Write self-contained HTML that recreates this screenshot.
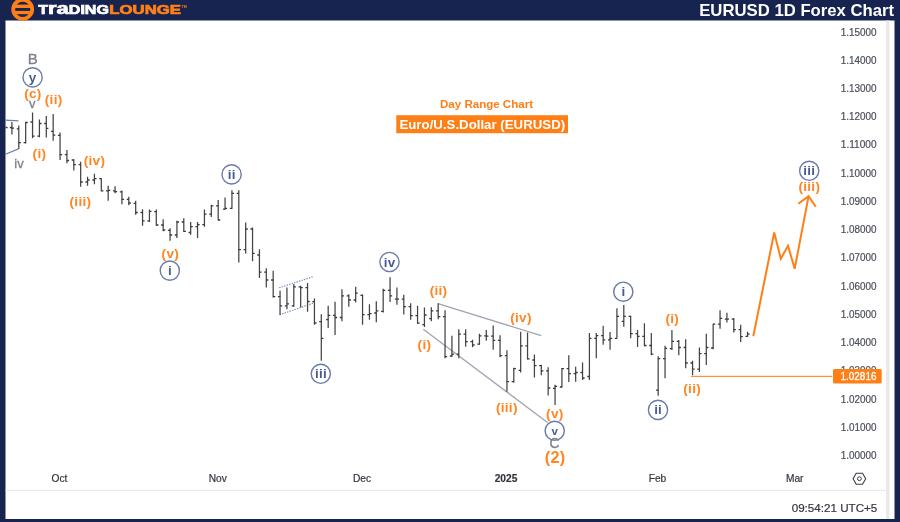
<!DOCTYPE html>
<html><head><meta charset="utf-8"><title>EURUSD 1D Forex Chart</title>
<style>
html,body{margin:0;padding:0;background:#16244f;overflow:hidden;}
body{width:900px;height:522px;font-family:"Liberation Sans", sans-serif;}
svg{display:block;will-change:transform;}
text{font-family:"Liberation Sans", sans-serif;}
</style></head><body>
<svg width="900" height="522" viewBox="0 0 900 522">
<rect x="0" y="0" width="900" height="522" fill="#16244f"/>
<rect x="5.5" y="20.5" width="889" height="498.5" fill="#ffffff"/>
<rect x="886.1" y="20.5" width="3.3" height="498.5" fill="#e9e9e9"/>
<rect x="5.5" y="489.8" width="880.6" height="1" fill="#e4e6ec"/>
<g>
<circle cx="22.7" cy="9.3" r="9.5" fill="none" stroke="#ff7f17" stroke-width="3.8"/>
<rect x="13.5" y="4.6" width="18.4" height="3.4" fill="#ff7f17"/>
<rect x="13.5" y="10.9" width="18.4" height="3.3" fill="#ff7f17"/>
</g>
<text x="38.2" y="13.8" font-family='"Liberation Sans", sans-serif' font-weight="bold" font-size="12.3" fill="#ffffff" stroke="#ffffff" stroke-width="0.7" textLength="70.7" lengthAdjust="spacingAndGlyphs">T<tspan font-size="16.9">ra</tspan>DING</text>
<text x="109.3" y="13.8" font-family='"Liberation Sans", sans-serif' font-weight="bold" font-size="12.3" fill="#ff7f17" stroke="#ff7f17" stroke-width="0.7" textLength="71.7" lengthAdjust="spacingAndGlyphs">LOUNGE</text>
<text x="181.5" y="8" font-family='"Liberation Sans", sans-serif' font-weight="bold" font-size="3.5" fill="#ff7f17">TM</text>
<text x="894.2" y="15.9" text-anchor="end" font-family='"Liberation Sans", sans-serif' font-weight="bold" font-size="16.6" fill="#ffffff" textLength="195" lengthAdjust="spacingAndGlyphs">EURUSD 1D Forex Chart</text>
<text x="876.6" y="459.2" text-anchor="end" font-family='"Liberation Sans", sans-serif' font-size="10.2" fill="#4b4f5a" stroke="#4b4f5a" stroke-width="0.2" textLength="35.8" lengthAdjust="spacingAndGlyphs">1.00000</text>
<text x="876.6" y="430.9" text-anchor="end" font-family='"Liberation Sans", sans-serif' font-size="10.2" fill="#4b4f5a" stroke="#4b4f5a" stroke-width="0.2" textLength="35.8" lengthAdjust="spacingAndGlyphs">1.01000</text>
<text x="876.6" y="402.7" text-anchor="end" font-family='"Liberation Sans", sans-serif' font-size="10.2" fill="#4b4f5a" stroke="#4b4f5a" stroke-width="0.2" textLength="35.8" lengthAdjust="spacingAndGlyphs">1.02000</text>
<text x="876.6" y="346.2" text-anchor="end" font-family='"Liberation Sans", sans-serif' font-size="10.2" fill="#4b4f5a" stroke="#4b4f5a" stroke-width="0.2" textLength="35.8" lengthAdjust="spacingAndGlyphs">1.04000</text>
<text x="876.6" y="317.9" text-anchor="end" font-family='"Liberation Sans", sans-serif' font-size="10.2" fill="#4b4f5a" stroke="#4b4f5a" stroke-width="0.2" textLength="35.8" lengthAdjust="spacingAndGlyphs">1.05000</text>
<text x="876.6" y="289.7" text-anchor="end" font-family='"Liberation Sans", sans-serif' font-size="10.2" fill="#4b4f5a" stroke="#4b4f5a" stroke-width="0.2" textLength="35.8" lengthAdjust="spacingAndGlyphs">1.06000</text>
<text x="876.6" y="261.4" text-anchor="end" font-family='"Liberation Sans", sans-serif' font-size="10.2" fill="#4b4f5a" stroke="#4b4f5a" stroke-width="0.2" textLength="35.8" lengthAdjust="spacingAndGlyphs">1.07000</text>
<text x="876.6" y="233.2" text-anchor="end" font-family='"Liberation Sans", sans-serif' font-size="10.2" fill="#4b4f5a" stroke="#4b4f5a" stroke-width="0.2" textLength="35.8" lengthAdjust="spacingAndGlyphs">1.08000</text>
<text x="876.6" y="204.9" text-anchor="end" font-family='"Liberation Sans", sans-serif' font-size="10.2" fill="#4b4f5a" stroke="#4b4f5a" stroke-width="0.2" textLength="35.8" lengthAdjust="spacingAndGlyphs">1.09000</text>
<text x="876.6" y="176.7" text-anchor="end" font-family='"Liberation Sans", sans-serif' font-size="10.2" fill="#4b4f5a" stroke="#4b4f5a" stroke-width="0.2" textLength="35.8" lengthAdjust="spacingAndGlyphs">1.10000</text>
<text x="876.6" y="148.4" text-anchor="end" font-family='"Liberation Sans", sans-serif' font-size="10.2" fill="#4b4f5a" stroke="#4b4f5a" stroke-width="0.2" textLength="35.8" lengthAdjust="spacingAndGlyphs">1.11000</text>
<text x="876.6" y="120.2" text-anchor="end" font-family='"Liberation Sans", sans-serif' font-size="10.2" fill="#4b4f5a" stroke="#4b4f5a" stroke-width="0.2" textLength="35.8" lengthAdjust="spacingAndGlyphs">1.12000</text>
<text x="876.6" y="92.0" text-anchor="end" font-family='"Liberation Sans", sans-serif' font-size="10.2" fill="#4b4f5a" stroke="#4b4f5a" stroke-width="0.2" textLength="35.8" lengthAdjust="spacingAndGlyphs">1.13000</text>
<text x="876.6" y="63.7" text-anchor="end" font-family='"Liberation Sans", sans-serif' font-size="10.2" fill="#4b4f5a" stroke="#4b4f5a" stroke-width="0.2" textLength="35.8" lengthAdjust="spacingAndGlyphs">1.14000</text>
<text x="876.6" y="35.5" text-anchor="end" font-family='"Liberation Sans", sans-serif' font-size="10.2" fill="#4b4f5a" stroke="#4b4f5a" stroke-width="0.2" textLength="35.8" lengthAdjust="spacingAndGlyphs">1.15000</text>
<text x="876.6" y="374.4" text-anchor="end" font-family='"Liberation Sans", sans-serif' font-size="10.2" fill="#4b4f5a" stroke="#4b4f5a" stroke-width="0.2" textLength="35.8" lengthAdjust="spacingAndGlyphs">1.03000</text>
<rect x="691" y="375.8" width="141.3" height="1.05" fill="#ff7f17"/>
<rect x="833" y="369.1" width="48.7" height="14.5" rx="1.5" fill="#ff7f17"/>
<text x="876.4" y="380.3" text-anchor="end" font-family='"Liberation Sans", sans-serif' font-size="10.2" fill="#ffffff" stroke="#ffffff" stroke-width="0.3" textLength="35.8" lengthAdjust="spacingAndGlyphs">1.02816</text>
<text x="59.5" y="481.7" text-anchor="middle" font-family='"Liberation Sans", sans-serif' font-size="10.2" fill="#33363f" stroke="#33363f" stroke-width="0.2">Oct</text>
<text x="217.8" y="481.7" text-anchor="middle" font-family='"Liberation Sans", sans-serif' font-size="10.2" fill="#33363f" stroke="#33363f" stroke-width="0.2">Nov</text>
<text x="362" y="481.7" text-anchor="middle" font-family='"Liberation Sans", sans-serif' font-size="10.2" fill="#33363f" stroke="#33363f" stroke-width="0.2">Dec</text>
<text x="506" y="481.7" text-anchor="middle" font-family='"Liberation Sans", sans-serif' font-size="10.2" fill="#33363f" stroke="#33363f" stroke-width="0.2" font-weight="bold">2025</text>
<text x="657.5" y="481.7" text-anchor="middle" font-family='"Liberation Sans", sans-serif' font-size="10.2" fill="#33363f" stroke="#33363f" stroke-width="0.2">Feb</text>
<text x="794.7" y="481.7" text-anchor="middle" font-family='"Liberation Sans", sans-serif' font-size="10.2" fill="#33363f" stroke="#33363f" stroke-width="0.2">Mar</text>
<text x="877.3" y="512.3" text-anchor="end" font-family='"Liberation Sans", sans-serif' font-size="11.6" fill="#33363f" stroke="#33363f" stroke-width="0.2" textLength="85.6" lengthAdjust="spacingAndGlyphs">09:54:21 UTC+5</text>
<polygon points="865.7,478.7 862.5,484.2 856.2,484.2 853.1,478.7 856.2,473.2 862.5,473.2" fill="none" stroke="#3a3d46" stroke-width="1.1"/>
<circle cx="859.4" cy="478.7" r="1.9" fill="none" stroke="#3a3d46" stroke-width="1"/>
<text x="486.5" y="108.3" text-anchor="middle" font-family='"Liberation Sans", sans-serif' font-weight="bold" font-size="11.6" fill="#ff7f17" textLength="93" lengthAdjust="spacingAndGlyphs">Day Range Chart</text>
<rect x="396.3" y="115.2" width="171.7" height="18" fill="#ff7f17"/>
<text x="482.3" y="128.5" text-anchor="middle" font-family='"Liberation Sans", sans-serif' font-weight="bold" font-size="12.4" fill="#ffffff" textLength="165.7" lengthAdjust="spacingAndGlyphs">Euro/U.S.Dollar (EURUSD)</text>
<path d="M5.4 120.1L18.5 120.8M5.4 154.3L18.5 148.9" stroke="#6d80ad" stroke-width="1.2" fill="none"/>
<path d="M438 303.6L541.3 335.7M423.3 329.2L547.5 422.5" stroke="#a0a4b4" stroke-width="1.3" fill="none"/>
<path d="M279.2 287.8L313 276.7M279.7 314.7L313 303.3" stroke="#7e8fbe" stroke-width="1.2" stroke-dasharray="1.4 1.2" fill="none"/>
<path d="M11.92 122.1V134.6M18.80 125.5V149.0M25.67 122.1V143.6M32.55 112.5V138.2M39.42 119.4V137.3M46.30 116.0V137.5M53.17 114.0V140.8M60.05 132.5V160.0M66.92 150.0V163.3M73.80 159.2V170.5M80.67 161.7V186.7M87.55 176.7V185.8M94.42 173.7V184.2M101.30 178.3V191.3M108.17 185.8V200.8M115.05 186.2V193.3M121.92 190.5V204.2M128.80 196.7V205.2M135.68 200.8V214.7M142.55 209.2V225.8M149.43 209.5V222.0M156.30 209.5V225.8M163.18 219.2V231.3M170.05 228.3V240.8M176.93 220.8V238.0M183.80 218.3V232.0M190.68 222.0V234.7M197.55 222.0V238.0M204.43 209.5V226.7M211.30 204.7V217.0M218.18 200.0V220.5M225.05 197.5V209.7M231.93 190.3V208.7M238.80 190.3V262.5M245.68 222.5V253.6M252.55 227.5V261.3M259.43 249.2V278.0M266.30 268.3V287.5M273.18 270.8V297.5M280.05 290.8V315.0M286.93 287.5V309.2M293.80 284.0V306.7M300.68 285.8V307.5M307.55 283.0V311.7M314.43 298.5V324.7M321.30 314.2V360.8M328.18 305.8V328.0M335.05 301.7V335.0M341.93 289.2V321.3M348.80 294.2V306.7M355.68 286.7V302.5M362.55 294.4V324.7M369.43 304.2V319.7M376.30 301.3V322.2M383.18 288.8V312.5M390.05 277.2V302.0M396.93 287.5V304.7M403.80 294.7V314.4M410.68 303.3V319.7M417.55 305.8V323.8M424.43 307.5V327.0M431.30 307.2V321.2M438.18 303.3V319.2M445.05 310.3V358.3M451.93 335.8V356.7M458.80 329.2V358.3M465.68 329.2V346.7M472.55 339.7V347.2M479.43 333.7V344.7M486.30 330.0V340.8M493.18 325.6V349.7M500.05 335.2V357.2M506.93 350.2V391.7M513.80 367.8V382.5M520.67 331.7V372.5M527.55 332.5V359.5M534.42 354.5V377.5M541.30 364.7V375.2M548.17 367.2V395.5M555.05 384.7V405.0M561.92 368.0V387.5M568.80 355.3V382.0M575.67 366.7V381.7M582.55 362.5V380.0M589.42 333.0V380.0M596.30 333.0V358.3M603.17 325.8V344.7M610.05 332.0V349.7M616.92 308.3V338.3M623.80 305.0V326.7M630.67 315.8V338.3M637.55 330.0V347.0M644.42 323.3V346.3M651.30 333.0V355.3M658.17 356.3V395.8M665.05 345.8V378.3M671.92 330.0V350.0M678.80 340.0V355.3M685.67 339.2V368.3M692.55 360.8V375.3M699.42 347.5V372.0M706.30 333.7V365.0M713.17 323.7V349.2M720.05 310.2V328.8M726.92 312.7V322.5M733.80 318.0V332.5M740.67 324.7V342.0M747.55 331.7V336.7" stroke="#444444" stroke-width="1.25" fill="none"/><path d="M9.82 127.5H12.12M11.72 128.2H14.02M16.70 128.8H19.00M18.60 142.6H20.90M23.57 142.6H25.87M25.47 122.5H27.77M30.45 122.0H32.75M32.35 136.2H34.65M37.32 136.2H39.62M39.22 123.5H41.52M44.20 123.5H46.50M46.10 128.4H48.40M51.07 131.4H53.38M52.97 135.2H55.27M57.95 135.3H60.25M59.85 154.6H62.15M64.83 154.6H67.12M66.72 160.5H69.02M71.70 160.0H74.00M73.60 164.7H75.90M78.58 164.7H80.88M80.47 182.0H82.77M85.45 182.0H87.75M87.35 180.0H89.65M92.33 180.0H94.62M94.22 178.7H96.52M99.20 178.7H101.50M101.10 190.8H103.40M106.08 190.8H108.38M107.97 190.3H110.27M112.95 190.8H115.25M114.85 191.7H117.15M119.83 191.8H122.12M121.72 199.4H124.02M126.70 199.4H129.00M128.60 203.0H130.90M133.58 203.3H135.88M135.48 212.5H137.78M140.45 212.5H142.75M142.35 220.8H144.65M147.33 220.8H149.62M149.23 211.3H151.53M154.20 211.7H156.50M156.10 225.0H158.40M161.08 225.0H163.38M162.98 230.0H165.28M167.95 230.3H170.25M169.85 235.0H172.15M174.83 235.0H177.12M176.73 222.0H179.03M181.70 222.0H184.00M183.60 231.3H185.90M188.58 232.5H190.88M190.48 226.7H192.78M195.45 226.7H197.75M197.35 224.7H199.65M202.33 224.7H204.62M204.23 214.2H206.53M209.20 214.2H211.50M211.10 205.8H213.40M216.08 205.8H218.38M217.98 220.0H220.28M222.95 209.2H225.25M224.85 208.3H227.15M229.83 208.3H232.12M231.73 193.3H234.03M236.70 193.3H239.00M238.60 249.7H240.90M243.58 249.7H245.88M245.48 229.0H247.78M250.45 229.0H252.75M252.35 253.3H254.65M257.32 255.0H259.62M259.23 272.2H261.53M264.20 272.2H266.50M266.10 280.0H268.40M271.07 280.0H273.38M272.98 296.7H275.28M277.95 296.7H280.25M279.85 305.8H282.15M284.82 305.8H287.12M286.73 303.8H289.03M291.70 305.8H294.00M293.60 286.8H295.90M298.57 286.8H300.88M300.48 287.7H302.78M305.45 287.7H307.75M307.35 301.5H309.65M312.32 301.7H314.62M314.23 323.0H316.53M319.20 321.7H321.50M321.10 338.3H323.40M326.07 319.7H328.38M327.98 315.3H330.28M332.95 315.3H335.25M334.85 317.5H337.15M339.82 317.5H342.12M341.73 295.8H344.03M346.70 295.8H349.00M348.60 300.0H350.90M353.57 300.0H355.88M355.48 293.2H357.78M360.45 295.3H362.75M362.35 314.7H364.65M367.32 314.7H369.62M369.23 313.7H371.53M374.20 313.0H376.50M376.10 310.8H378.40M381.07 311.3H383.38M382.98 290.3H385.28M387.95 290.3H390.25M389.85 295.8H392.15M394.82 299.2H397.12M396.73 299.2H399.03M401.70 299.2H404.00M403.60 306.7H405.90M408.57 306.7H410.88M410.48 315.6H412.78M415.45 315.6H417.75M417.35 323.2H419.65M422.32 324.7H424.62M424.23 315.0H426.53M429.20 318.7H431.50M431.10 310.8H433.40M436.07 310.8H438.38M437.98 316.7H440.28M442.95 316.7H445.25M444.85 356.7H447.15M449.82 356.0H452.12M451.73 354.2H454.03M456.70 354.2H459.00M458.60 334.2H460.90M463.57 334.2H465.88M465.48 341.7H467.78M470.45 341.7H472.75M472.35 345.0H474.65M477.32 344.2H479.62M479.23 335.8H481.53M484.20 335.8H486.50M486.10 336.2H488.40M491.07 336.2H493.38M492.98 340.4H495.28M497.95 340.4H500.25M499.85 355.6H502.15M504.82 355.6H507.12M506.73 381.7H509.03M511.70 381.7H514.00M513.60 368.7H515.90M518.57 370.4H520.88M520.47 345.8H522.77M525.45 345.8H527.75M527.35 358.8H529.65M532.32 360.0H534.62M534.22 365.6H536.52M539.20 365.6H541.50M541.10 370.8H543.40M546.07 370.8H548.38M547.97 388.0H550.27M552.95 388.3H555.25M554.85 386.3H557.15M559.82 387.0H562.12M561.72 368.7H564.02M566.70 368.7H569.00M568.60 373.7H570.90M573.57 373.7H575.88M575.47 372.5H577.77M580.45 372.5H582.75M582.35 378.0H584.65M587.32 376.5H589.62M589.22 338.3H591.52M594.20 338.3H596.50M596.10 335.6H598.40M601.07 335.6H603.38M602.97 339.8H605.27M607.95 339.8H610.25M609.85 338.3H612.15M614.82 338.3H617.12M616.72 316.3H619.02M621.70 321.3H624.00M623.60 316.3H625.90M628.57 316.3H630.88M630.47 333.7H632.77M635.45 333.7H637.75M637.35 336.3H639.65M642.32 336.3H644.62M644.22 345.5H646.52M649.20 345.5H651.50M651.10 354.2H653.40M656.07 390.2H658.38M657.97 358.7H660.27M662.95 358.7H665.25M664.85 348.3H667.15M669.82 348.7H672.12M671.72 341.3H674.02M676.70 341.3H679.00M678.60 347.5H680.90M683.57 347.5H685.88M685.47 363.0H687.77M690.45 363.0H692.75M692.35 369.2H694.65M697.32 369.2H699.62M699.22 353.7H701.52M704.20 353.7H706.50M706.10 347.5H708.40M711.07 348.0H713.38M712.97 324.2H715.27M717.95 324.2H720.25M719.85 318.3H722.15M724.82 319.2H727.12M726.72 319.2H729.02M731.70 319.2H734.00M733.60 329.7H735.90M738.57 329.7H740.88M740.47 336.7H742.77M745.45 336.3H747.75M747.35 334.2H749.65M5.5 127.5H7.6" stroke="#3a3a3a" stroke-width="1.3" fill="none"/>
<path d="M753.3 336.3L774.2 232.5L780.8 258.7L788 245.8L794.7 268.7L808.5 196.6" stroke="#ff7f17" stroke-width="2" fill="none" stroke-linejoin="miter"/>
<path d="M798.3 203.7L808.6 196.2L815.8 206.7" stroke="#ff7f17" stroke-width="2" fill="none"/>
<text x="32.8" y="64.4" text-anchor="middle" font-family='"Liberation Sans", sans-serif' font-size="15" fill="#7c808b" stroke="#7c808b" stroke-width="0.3">B</text>
<circle cx="32.6" cy="77.4" r="9.6" fill="#ffffff" fill-opacity="0" stroke="#6a7baa" stroke-width="1.4"/>
<text x="32.6" y="81.9" text-anchor="middle" font-family='"Liberation Sans", sans-serif' font-weight="bold" font-size="13.4" fill="#485c92">y</text>
<text x="32.949999999999996" y="98.1" letter-spacing="0.3" text-anchor="middle" font-family='"Liberation Sans", sans-serif' font-weight="bold" font-size="13.6" fill="#ff8622">(c)</text>
<text x="32.3" y="107.5" text-anchor="middle" font-family='"Liberation Sans", sans-serif' font-size="13" fill="#7c808b" stroke="#7c808b" stroke-width="0.3">v</text>
<text x="53.65" y="103.7" letter-spacing="0.3" text-anchor="middle" font-family='"Liberation Sans", sans-serif' font-weight="bold" font-size="13.6" fill="#ff8622">(ii)</text>
<text x="39.449999999999996" y="157.7" letter-spacing="0.3" text-anchor="middle" font-family='"Liberation Sans", sans-serif' font-weight="bold" font-size="13.6" fill="#ff8622">(i)</text>
<text x="19" y="167.7" text-anchor="middle" font-family='"Liberation Sans", sans-serif' font-size="13" fill="#7c808b" stroke="#7c808b" stroke-width="0.3">iv</text>
<text x="94.45" y="164.7" letter-spacing="0.3" text-anchor="middle" font-family='"Liberation Sans", sans-serif' font-weight="bold" font-size="13.6" fill="#ff8622">(iv)</text>
<text x="80.45" y="206.1" letter-spacing="0.3" text-anchor="middle" font-family='"Liberation Sans", sans-serif' font-weight="bold" font-size="13.6" fill="#ff8622">(iii)</text>
<text x="170.35" y="257.8" letter-spacing="0.3" text-anchor="middle" font-family='"Liberation Sans", sans-serif' font-weight="bold" font-size="13.6" fill="#ff8622">(v)</text>
<circle cx="169.8" cy="270.6" r="9.6" fill="#ffffff" fill-opacity="0" stroke="#6a7baa" stroke-width="1.4"/>
<text x="169.8" y="275.1" text-anchor="middle" font-family='"Liberation Sans", sans-serif' font-weight="bold" font-size="13.4" fill="#485c92">i</text>
<circle cx="231.6" cy="174.4" r="9.6" fill="#ffffff" fill-opacity="0" stroke="#6a7baa" stroke-width="1.4"/>
<text x="231.72" y="178.9" letter-spacing="0.25" text-anchor="middle" font-family='"Liberation Sans", sans-serif' font-weight="bold" font-size="13.4" fill="#485c92">ii</text>
<circle cx="320.8" cy="373.8" r="9.6" fill="#ffffff" fill-opacity="0" stroke="#6a7baa" stroke-width="1.4"/>
<text x="320.92" y="378.3" letter-spacing="0.25" text-anchor="middle" font-family='"Liberation Sans", sans-serif' font-weight="bold" font-size="13.4" fill="#485c92">iii</text>
<circle cx="389.5" cy="262" r="9.6" fill="#ffffff" fill-opacity="0" stroke="#6a7baa" stroke-width="1.4"/>
<text x="389.62" y="266.5" letter-spacing="0.25" text-anchor="middle" font-family='"Liberation Sans", sans-serif' font-weight="bold" font-size="13.4" fill="#485c92">iv</text>
<text x="438.54999999999995" y="294.7" letter-spacing="0.3" text-anchor="middle" font-family='"Liberation Sans", sans-serif' font-weight="bold" font-size="13.6" fill="#ff8622">(ii)</text>
<text x="424.45" y="349.3" letter-spacing="0.3" text-anchor="middle" font-family='"Liberation Sans", sans-serif' font-weight="bold" font-size="13.6" fill="#ff8622">(i)</text>
<text x="520.9499999999999" y="322.0" letter-spacing="0.3" text-anchor="middle" font-family='"Liberation Sans", sans-serif' font-weight="bold" font-size="13.6" fill="#ff8622">(iv)</text>
<text x="506.84999999999997" y="411.7" letter-spacing="0.3" text-anchor="middle" font-family='"Liberation Sans", sans-serif' font-weight="bold" font-size="13.6" fill="#ff8622">(iii)</text>
<text x="554.85" y="417.9" letter-spacing="0.3" text-anchor="middle" font-family='"Liberation Sans", sans-serif' font-weight="bold" font-size="13.6" fill="#ff8622">(v)</text>
<circle cx="554.7" cy="430.8" r="9.6" fill="#ffffff" fill-opacity="0" stroke="#6a7baa" stroke-width="1.4"/>
<text x="554.7" y="435.3" text-anchor="middle" font-family='"Liberation Sans", sans-serif' font-weight="bold" font-size="11.6" fill="#485c92">v</text>
<text x="554.4" y="448.2" text-anchor="middle" font-family='"Liberation Sans", sans-serif' font-size="13.8" fill="#7c808b" stroke="#7c808b" stroke-width="0.3">C</text>
<text x="555.15" y="462.7" letter-spacing="0.3" text-anchor="middle" font-family='"Liberation Sans", sans-serif' font-weight="bold" font-size="16.3" fill="#ff8622">(2)</text>
<circle cx="623.3" cy="291.7" r="9.6" fill="#ffffff" fill-opacity="0" stroke="#6a7baa" stroke-width="1.4"/>
<text x="623.3" y="296.2" text-anchor="middle" font-family='"Liberation Sans", sans-serif' font-weight="bold" font-size="13.4" fill="#485c92">i</text>
<text x="672.35" y="323.3" letter-spacing="0.3" text-anchor="middle" font-family='"Liberation Sans", sans-serif' font-weight="bold" font-size="13.6" fill="#ff8622">(i)</text>
<text x="692.15" y="392.9" letter-spacing="0.3" text-anchor="middle" font-family='"Liberation Sans", sans-serif' font-weight="bold" font-size="13.6" fill="#ff8622">(ii)</text>
<circle cx="658" cy="409.9" r="9.6" fill="#ffffff" fill-opacity="0" stroke="#6a7baa" stroke-width="1.4"/>
<text x="658.12" y="414.4" letter-spacing="0.25" text-anchor="middle" font-family='"Liberation Sans", sans-serif' font-weight="bold" font-size="13.4" fill="#485c92">ii</text>
<circle cx="809.2" cy="170.8" r="9.6" fill="#ffffff" fill-opacity="0" stroke="#6a7baa" stroke-width="1.4"/>
<text x="809.32" y="175.3" letter-spacing="0.25" text-anchor="middle" font-family='"Liberation Sans", sans-serif' font-weight="bold" font-size="13.4" fill="#485c92">iii</text>
<text x="809.35" y="191.2" letter-spacing="0.3" text-anchor="middle" font-family='"Liberation Sans", sans-serif' font-weight="bold" font-size="13.6" fill="#ff8622">(iii)</text>
</svg>
</body></html>
